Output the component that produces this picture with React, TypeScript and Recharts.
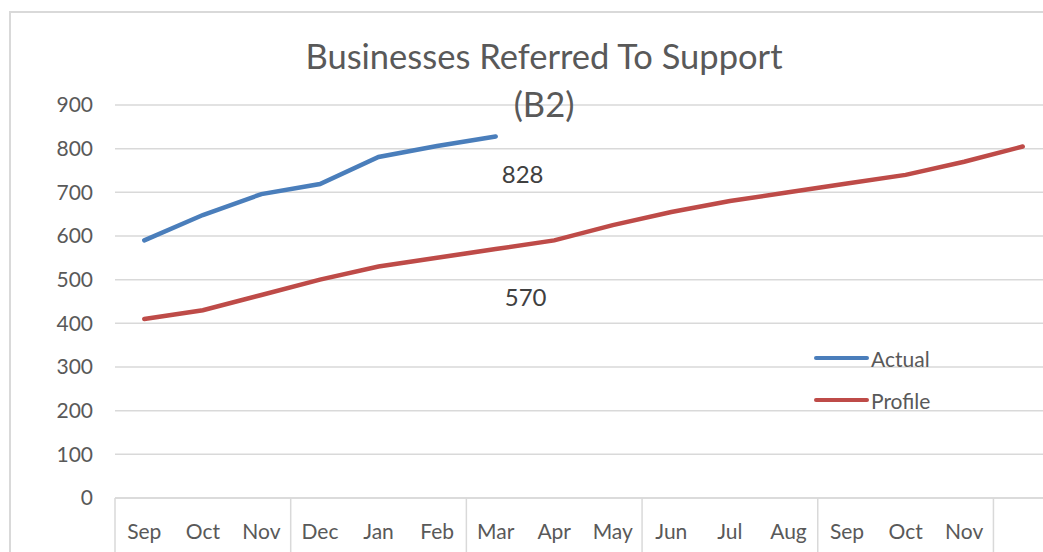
import { LineChart, Line, XAxis, YAxis, CartesianGrid, LabelList } from 'recharts';

const months = ['Sep', 'Oct', 'Nov', 'Dec', 'Jan', 'Feb', 'Mar', 'Apr', 'May', 'Jun', 'Jul', 'Aug', 'Sep', 'Oct', 'Nov', ''];
const actual = [590, 648, 696, 719, 781, 806, 828];
const profile = [410, 430, 465, 500, 530, 550, 570, 590, 625, 655, 680, 700, 720, 740, 770, 805];
const yTicks = [0, 100, 200, 300, 400, 500, 600, 700, 800, 900];
const labelIndex = 6;

const data = months.map((m, i) => ({
    key: `${m}-${i}`,
    month: m,
    actual: i < actual.length ? actual[i] : null,
    profile: profile[i],
}));

const FONT = 'Lato, "Open Sans", sans-serif';
const TEXT = '#595959';
const GRID = '#d9d9d9';
const BLUE = '#4a7ebb';
const RED = '#be4b48';

const CHART_W = 1060;
const PLOT_LEFT = 115;
const PLOT_RIGHT_MARGIN = 8;
const BAND = (CHART_W - PLOT_LEFT - PLOT_RIGHT_MARGIN) / months.length;

const MonthTick = (props: any) => {
    const { x, y, payload, index } = props;
    return (
        <g>
            {index % 3 === 0 && (
                <line x1={x - BAND / 2} x2={x - BAND / 2} y1={y} y2={y + 70} stroke={GRID} strokeWidth={1.5} />
            )}
            <text x={x} y={y + 32} textAnchor="middle" dominantBaseline="central" fill={TEXT} fontSize={21} fontFamily={FONT}>
                {months[index] ?? payload.value}
            </text>
        </g>
    );
};

const pointLabel = (dx: number, dy: number) => (props: any) => {
    const { x, y, value, index } = props;
    if (index !== labelIndex) return null;
    return (
        <text x={x + dx} y={y + dy} textAnchor="middle" dominantBaseline="central" fill="#404040" fontSize={24} fontFamily={FONT}>
            {value}
        </text>
    );
};

const series = [
    { name: 'Actual', color: BLUE },
    { name: 'Profile', color: RED },
];

export default function App() {
    return (
        <div style={{ position: 'absolute', left: 0, top: 0, width: 1043, height: 552, overflow: 'hidden', background: '#fff' }}>
            {/* chart frame */}
            <div style={{ position: 'absolute', left: 9, top: 11, width: 1100, height: 600, borderTop: `2px solid ${GRID}`, borderLeft: `2px solid ${GRID}` }} />

            <div style={{ position: 'absolute', left: 0, top: 0 }}>
                <LineChart width={CHART_W} height={552} data={data} margin={{ top: 105, right: PLOT_RIGHT_MARGIN, left: 0, bottom: 14 }}>
                    <CartesianGrid vertical={false} stroke={GRID} strokeWidth={1.5} />
                    <XAxis
                        dataKey="key"
                        scale="band"
                        height={40}
                        interval={0}
                        tickLine={false}
                        tickSize={0}
                        tickMargin={0}
                        axisLine={{ stroke: GRID, strokeWidth: 1.5 }}
                        tick={<MonthTick />}
                    />
                    <YAxis
                        width={PLOT_LEFT}
                        domain={[0, 900]}
                        ticks={yTicks}
                        tickLine={false}
                        axisLine={false}
                        tickSize={0}
                        tickMargin={22}
                        tick={{ fill: TEXT, fontSize: 21, fontFamily: FONT }}
                    />
                    <Line type="linear" dataKey="actual" name="Actual" stroke={BLUE} strokeWidth={4.5} strokeLinecap="round" dot={false} connectNulls={false} isAnimationActive={false}>
                        <LabelList dataKey="actual" content={pointLabel(27, 37)} />
                    </Line>
                    <Line type="linear" dataKey="profile" name="Profile" stroke={RED} strokeWidth={4.5} strokeLinecap="round" dot={false} isAnimationActive={false}>
                        <LabelList dataKey="profile" content={pointLabel(30, 47)} />
                    </Line>
                </LineChart>
            </div>

            {/* Legend */}
            <div style={{ position: 'absolute', left: 814, top: 337, fontFamily: FONT, fontSize: 21, color: TEXT }}>
                {series.map((s) => (
                    <div key={s.name} style={{ display: 'flex', alignItems: 'center', height: 42 }}>
                        <span style={{ display: 'inline-block', width: 55, height: 4.5, borderRadius: 2, background: s.color, marginRight: 2 }} />
                        <span>{s.name}</span>
                    </div>
                ))}
            </div>

            {/* Title */}
            <div style={{ position: 'absolute', left: 194, width: 700, top: 32, textAlign: 'center', fontFamily: FONT, fontSize: 34.5, lineHeight: '48px', color: TEXT, pointerEvents: 'none' }}>
                Businesses Referred To Support
                <br />
                (B2)
            </div>
        </div>
    );
}
